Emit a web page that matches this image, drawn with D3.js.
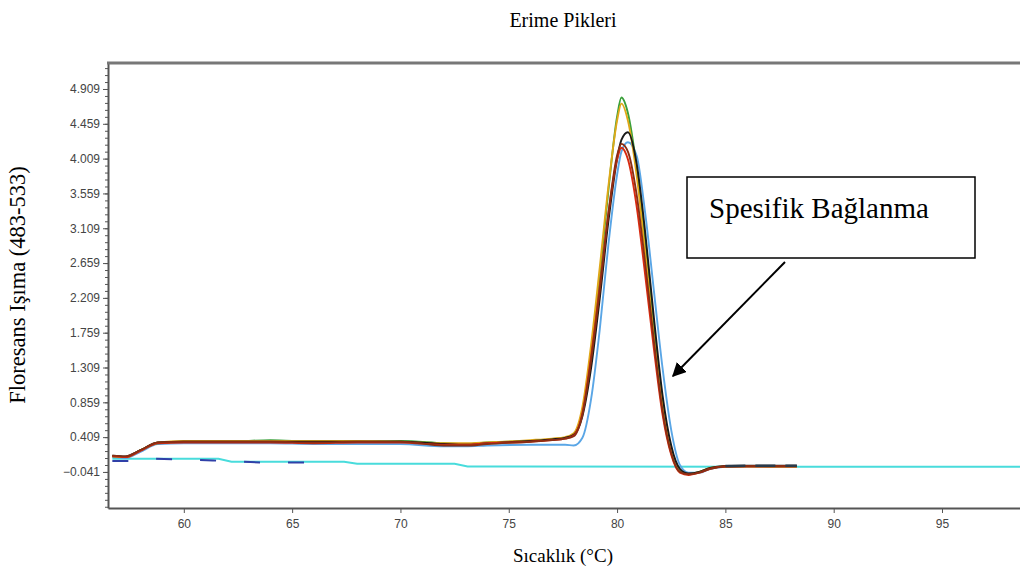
<!DOCTYPE html>
<html>
<head>
<meta charset="utf-8">
<script src="https://cdn.jsdelivr.net/npm/d3@7"></script>
<style>
  body { margin: 0; background: #fff; }
  .tick text { font-family: "Liberation Sans", Arial, sans-serif; font-size: 12px; fill: #444; }
  .serif { font-family: "Liberation Serif", "Times New Roman", serif; fill: #000; }
</style>
</head>
<body>
<div id="chart"></div>
<script>
// temperature grid shared by the melting curves (°C)
var temps = [56.7, 57.3, 58.0, 58.8, 60, 62, 64, 66, 68, 70, 72, 73, 74, 76, 77, 77.6, 78.0, 78.4, 78.8, 79.2,
             79.6, 80.0, 80.2, 80.5, 80.9, 81.3, 81.7, 82.1, 82.5, 82.9, 83.3, 83.8, 84.3, 85, 86, 87, 88.3];

var greenVals  = [0.16,0.15,0.24,0.33,0.35,0.35,0.37,0.35,0.35,0.36,0.33,0.32,0.34,0.36,0.38,0.40,0.44,0.75,1.50,2.50,3.60,4.55,4.80,4.60,3.90,2.90,1.80,0.85,0.25,-0.03,-0.07,-0.04,0.01,0.03,0.035,0.03,0.03];
var yellowVals = [0.16,0.15,0.24,0.34,0.36,0.36,0.36,0.36,0.36,0.35,0.33,0.33,0.34,0.37,0.39,0.41,0.46,0.80,1.60,2.60,3.65,4.50,4.72,4.50,3.80,2.80,1.70,0.80,0.22,-0.04,-0.07,-0.04,0.01,0.03,0.03,0.03,0.03];
var redVals    = [0.16,0.15,0.23,0.33,0.34,0.34,0.34,0.33,0.34,0.34,0.31,0.31,0.33,0.35,0.37,0.39,0.43,0.72,1.45,2.35,3.30,4.00,4.15,4.00,3.40,2.50,1.55,0.70,0.18,-0.05,-0.08,-0.05,0.00,0.03,0.03,0.03,0.03];
var brownVals  = [0.17,0.16,0.24,0.34,0.35,0.35,0.35,0.34,0.35,0.35,0.30,0.30,0.32,0.35,0.37,0.39,0.42,0.70,1.40,2.30,3.30,4.05,4.20,4.10,3.55,2.65,1.65,0.75,0.20,-0.04,-0.07,-0.05,0.00,0.03,0.035,0.035,0.035];
var blackVals  = [0.17,0.16,0.24,0.34,0.35,0.35,0.35,0.35,0.35,0.35,0.32,0.31,0.33,0.36,0.38,0.40,0.44,0.68,1.30,2.20,3.20,4.00,4.25,4.35,3.95,3.05,1.95,0.95,0.30,0.00,-0.06,-0.04,0.01,0.035,0.04,0.04,0.04];
var blueVals   = [0.15,0.14,0.22,0.32,0.33,0.33,0.33,0.32,0.32,0.32,0.29,0.29,0.30,0.31,0.31,0.31,0.30,0.40,0.90,1.80,2.90,3.80,4.10,4.22,4.05,3.30,2.30,1.30,0.50,0.05,-0.05,-0.05,0.00,0.025,0.03,0.03,0.03];

// baseline (no template) curves
var cyanTemps = [56.7, 61.6, 62.2, 67.4, 68.0, 72.5, 73.1, 98.6];
var cyanVals  = [0.13, 0.13, 0.09, 0.09, 0.065, 0.065, 0.03, 0.025];
var negTemps  = [56.7, 57.5, 58.0, 60, 62, 64, 66];
var negVals   = [0.10, 0.10, 0.13, 0.12, 0.10, 0.08, 0.08];
var tailTemps = [85, 86, 87, 88.3];
var tailVals  = [0.035, 0.04, 0.04, 0.04];

var yTicks = [-0.041, 0.409, 0.859, 1.309, 1.759, 2.209, 2.659, 3.109, 3.559, 4.009, 4.459, 4.909];
var xTicks = [60, 65, 70, 75, 80, 85, 90, 95];

var series = [
  {name: "mavi",   vals: blueVals,   color: "#5aa6e6"},
  {name: "yeşil",  vals: greenVals,  color: "#3aa03a"},
  {name: "sarı",   vals: yellowVals, color: "#e0a818"},
  {name: "siyah",  vals: blackVals,  color: "#1a1a1a"},
  {name: "kırmızı",vals: redVals,    color: "#d82a10"},
  {name: "kahve",  vals: brownVals,  color: "#8a2e14"}
];

var width = 1020, height = 573;
var margin = {top: 63, right: 0, bottom: 65, left: 108};

var svg = d3.select("#chart").append("svg")
    .attr("width", width)
    .attr("height", height);

var x = d3.scaleLinear().domain([56.5, 98.6]).range([margin.left, width - margin.right]);
var y = d3.scaleLinear().domain([-0.507, 5.245]).range([height - margin.bottom, margin.top]);

// curves
var line = d3.line()
    .x(function(d) { return x(d[0]); })
    .y(function(d) { return y(d[1]); })
    .curve(d3.curveMonotoneX);

svg.append("path")
    .datum(d3.zip(cyanTemps, cyanVals))
    .attr("fill", "none")
    .attr("stroke", "#48dcdc")
    .attr("stroke-width", 2)
    .attr("d", line.curve(d3.curveLinear));

line.curve(d3.curveMonotoneX);

svg.append("path")
    .datum(d3.zip(negTemps, negVals))
    .attr("fill", "none")
    .attr("stroke", "#3040a8")
    .attr("stroke-width", 2)
    .attr("stroke-dasharray", "16,28")
    .attr("d", line);

svg.append("g")
  .selectAll("path")
  .data(series)
  .enter()
  .append("path")
    .attr("fill", "none")
    .attr("stroke", function(d) { return d.color; })
    .attr("stroke-width", 1.9)
    .attr("d", function(d) { return line(d3.zip(temps, d.vals)); });

// dark dashed tail after the dip
svg.append("path")
    .datum(d3.zip(tailTemps, tailVals))
    .attr("fill", "none")
    .attr("stroke", "#2a3a4a")
    .attr("stroke-width", 2.5)
    .attr("stroke-dasharray", "20,10")
    .attr("d", line);

// axes
svg.append("g")
    .attr("transform", "translate(" + margin.left + ",0)")
    .call(d3.axisLeft(y).tickValues(yTicks).tickFormat(d3.format(".3f")).tickSize(5).tickSizeOuter(0));
var minor = d3.range(-0.491, 5.2, 0.09);
svg.append("g")
    .attr("transform", "translate(" + margin.left + ",0)")
    .call(d3.axisLeft(y).tickValues(minor).tickFormat("").tickSize(3))
    .call(function(g) { g.select(".domain").remove(); });

svg.append("g")
    .attr("transform", "translate(0," + (height - margin.bottom) + ")")
    .call(d3.axisBottom(x).tickValues(xTicks).tickSize(5).tickSizeOuter(0).tickPadding(6));

svg.selectAll(".domain").attr("stroke", "#555").attr("stroke-width", 2);
svg.selectAll(".tick line").attr("stroke", "#555");

// top frame line
svg.append("line")
    .attr("x1", margin.left - 1).attr("x2", width)
    .attr("y1", margin.top).attr("y2", margin.top)
    .attr("stroke", "#777").attr("stroke-width", 3);

// titles
svg.append("text").attr("class", "serif")
    .attr("x", 563).attr("y", 27)
    .attr("text-anchor", "middle")
    .style("font-size", "20px")
    .text("Erime Pikleri");

svg.append("text").attr("class", "serif")
    .attr("x", 563).attr("y", 562)
    .attr("text-anchor", "middle")
    .style("font-size", "19px")
    .text("Sıcaklık (°C)");

svg.append("text").attr("class", "serif")
    .attr("transform", "translate(25,285) rotate(-90)")
    .attr("text-anchor", "middle")
    .style("font-size", "22.5px")
    .text("Floresans Işıma (483-533)");

// annotation
svg.append("defs").append("marker")
    .attr("id", "arrow")
    .attr("viewBox", "0 0 10 10")
    .attr("refX", 9).attr("refY", 5)
    .attr("markerWidth", 7).attr("markerHeight", 7)
    .attr("orient", "auto")
  .append("path")
    .attr("d", "M0,0 L10,5 L0,10 z")
    .attr("fill", "#000");

svg.append("rect")
    .attr("x", 687).attr("y", 177)
    .attr("width", 288).attr("height", 81)
    .attr("fill", "#fff")
    .attr("stroke", "#000")
    .attr("stroke-width", 1.5);

svg.append("text").attr("class", "serif")
    .attr("x", 709).attr("y", 218)
    .style("font-size", "29px")
    .text("Spesifik Bağlanma");

svg.append("line")
    .attr("x1", 785).attr("y1", 262)
    .attr("x2", 673).attr("y2", 376)
    .attr("stroke", "#000")
    .attr("stroke-width", 2)
    .attr("marker-end", "url(#arrow)");
</script>
</body>
</html>
